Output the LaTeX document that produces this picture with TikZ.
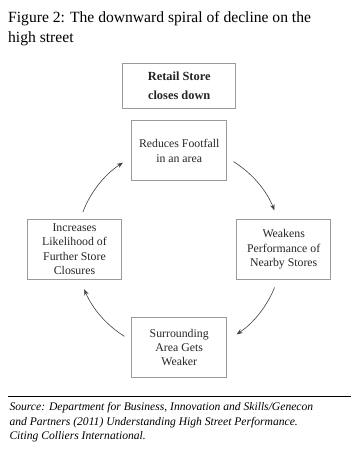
\documentclass[tikz,border=0pt]{standalone}
\usepackage{fontspec}
\setmainfont{Liberation Serif}
\usetikzlibrary{arrows.meta}
\definecolor{boxgray}{HTML}{9A9A9A}
\definecolor{arrowgray}{HTML}{404040}
\begin{document}
\begin{tikzpicture}[x=1pt,y=-1pt,
  stagebox/.style={draw=boxgray,line width=0.7pt,align=center,inner sep=0pt,
    font=\fontsize{11.8}{14.3}\selectfont,text=black!85},
  cyclearrow/.style={draw=arrowgray,line width=0.6pt,-{Stealth[length=6pt,width=4.5pt]}},
  srcline/.style={anchor=base west,inner sep=0pt,font=\itshape\fontsize{11.6}{14.3}\selectfont}]
\useasboundingbox (0,0) rectangle (359,460);
\fill[white] (0,0) rectangle (359,460);
% title
\node[anchor=base west,inner sep=0pt,font=\fontsize{15.6}{20.5}\selectfont] (title1) at (8,22.3) {Figure 2: The downward spiral of decline on the};
\node[anchor=base west,inner sep=0pt,font=\fontsize{15.6}{20.5}\selectfont] (title2) at (8,42.7) {high street};
% boxes
\node[stagebox,minimum width=113pt,minimum height=45pt,font=\bfseries\fontsize{12.4}{18.5}\selectfont] (retail) at (179.2,85.8) {Retail Store\\closes down};
\node[stagebox,minimum width=95pt,minimum height=60pt] (footfall) at (179.2,150.8) {Reduces Footfall\\in an area};
\node[stagebox,minimum width=94pt,minimum height=60pt] (weakens) at (283.7,249.2) {Weakens\\Performance of\\Nearby Stores};
\node[stagebox,minimum width=95pt,minimum height=60pt] (surround) at (179.2,347.3) {Surrounding\\Area Gets\\Weaker};
\node[stagebox,minimum width=94pt,minimum height=60pt] (increases) at (74.5,249.2) {Increases\\Likelihood of\\Further Store\\Closures};
% cycle arrows (y axis points down, so visual angle a is written -a)
\coordinate (ctr) at (179,249);
\path (ctr) ++(-58:103) coordinate (s1);
\path (ctr) ++(22:103) coordinate (s2);
\path (ctr) ++(122:103) coordinate (s3);
\path (ctr) ++(-159:103) coordinate (s4);
\draw[cyclearrow] (s1) arc[start angle=-58,end angle=-22,radius=103];
\draw[cyclearrow] (s2) arc[start angle=22,end angle=56,radius=103];
\draw[cyclearrow] (s3) arc[start angle=122,end angle=157,radius=103];
\draw[cyclearrow] (s4) arc[start angle=-159,end angle=-123,radius=103];
% rule and source
\coordinate (ruleL) at (8,396.5);
\coordinate (ruleR) at (351,396.5);
\draw[line width=0.8pt] (ruleL) -- (ruleR);
\node[srcline] (src1) at (9.3,410.7) {Source: Department for Business, Innovation and Skills/Genecon};
\node[srcline] (src2) at (9.3,425) {and Partners (2011) Understanding High Street Performance.};
\node[srcline] (src3) at (9.3,439.3) {Citing Colliers International.};
\end{tikzpicture}
\end{document}
